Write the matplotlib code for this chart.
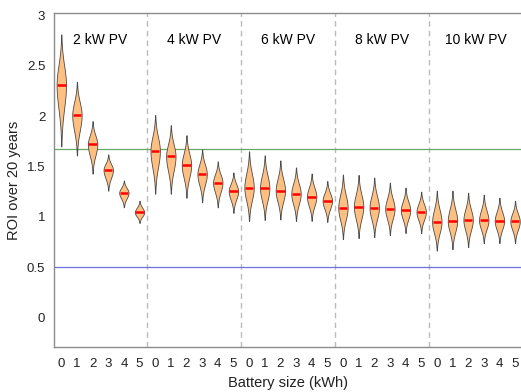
import numpy as np
import matplotlib
matplotlib.use("Agg")
import matplotlib.pyplot as plt

plt.rcParams['font.family'] = ['Liberation Sans', 'DejaVu Sans']

# PV system sizes and battery sizes
pv_labels = ['2 kW PV', '4 kW PV', '6 kW PV', '8 kW PV', '10 kW PV']
battery_sizes = [0, 1, 2, 3, 4, 5]

# ROI over 20 years per (PV, battery) combination: median, lower and upper extent
roi_median = [
    2.31, 2.01, 1.72, 1.465, 1.24, 1.045,
    1.655, 1.60, 1.515, 1.425, 1.34, 1.255,
    1.29, 1.285, 1.26, 1.23, 1.20, 1.16,
    1.09, 1.10, 1.09, 1.08, 1.065, 1.05,
    0.95, 0.96, 0.97, 0.965, 0.96, 0.955,
]
roi_low = [
    1.70, 1.61, 1.43, 1.26, 1.095, 0.94,
    1.23, 1.23, 1.19, 1.145, 1.095, 1.04,
    0.96, 0.97, 0.975, 0.96, 0.96, 0.95,
    0.78, 0.79, 0.80, 0.82, 0.84, 0.84,
    0.665, 0.68, 0.70, 0.74, 0.74, 0.74,
]
roi_high = [
    2.81, 2.34, 1.95, 1.62, 1.36, 1.16,
    2.01, 1.91, 1.81, 1.67, 1.55, 1.44,
    1.65, 1.61, 1.56, 1.49, 1.43, 1.356,
    1.42, 1.416, 1.39, 1.34, 1.29, 1.25,
    1.26, 1.26, 1.24, 1.22, 1.19, 1.16,
]

# reference levels
upper_ref = 1.67
lower_ref = 0.5

fig = plt.figure(figsize=(5.21, 3.92), dpi=100)
ax = fig.add_axes([54.3 / 521, 1 - 346.9 / 392, 1 - 54.3 / 521, (346.9 - 13.3) / 392])

n_bat = len(battery_sizes)
positions = np.arange(1, len(roi_median) + 1)
half_w = 0.3

for x, m, lo, hi in zip(positions, roi_median, roi_low, roi_high):
    y = np.linspace(lo, hi, 200)
    s = np.where(y >= m, (hi - m) / 2.6, (m - lo) / 2.6)
    w = half_w * np.exp(-0.5 * ((y - m) / s) ** 2)
    ax.fill_betweenx(y, x - w, x + w, facecolor='#FFBF80', edgecolor='#4a4a4a',
                     linewidth=0.6, zorder=3)
    ax.plot([x - 0.27, x + 0.27], [m, m], color='#FF0000', lw=1.8,
            solid_capstyle='butt', zorder=4)

for k in range(1, len(pv_labels)):
    ax.axvline(k * n_bat + 0.5, color='#BBBBBB', lw=1, ls=(0, (4, 3)), zorder=1)

ax.axhline(upper_ref, color='#66AA66', lw=0.9, zorder=2)
ax.axhline(lower_ref, color='#6F6FE0', lw=0.9, zorder=2)

for k, lab in enumerate(pv_labels):
    ax.text(k * n_bat + (n_bat + 1) / 2, 2.755, lab, ha='center', va='center',
            fontsize=10)

ax.set_xlim(0.553, 30.38)
ax.set_ylim(-0.29, 3.02)
ax.set_xticks(positions)
ax.set_xticklabels([str(b) for _ in pv_labels for b in battery_sizes])
ax.set_yticks([0, 0.5, 1, 1.5, 2, 2.5, 3])
ax.set_yticklabels(['0', '0.5', '1', '1.5', '2', '2.5', '3'])
ax.tick_params(length=0, labelsize=9.5, colors='#222222')
ax.tick_params(axis='y', pad=6.5)
ax.tick_params(axis='x', pad=8)

for side in ['left', 'bottom', 'top']:
    ax.spines[side].set_color('#8c8c8c')
    ax.spines[side].set_linewidth(1)
ax.spines['right'].set_visible(False)

ax.set_xlabel('Battery size (kWh)', fontsize=10.5, color='#222222', labelpad=4)
ax.set_ylabel('ROI over 20 years', fontsize=10.5, color='#222222', labelpad=4)

fig.savefig('out.png', dpi=100)
